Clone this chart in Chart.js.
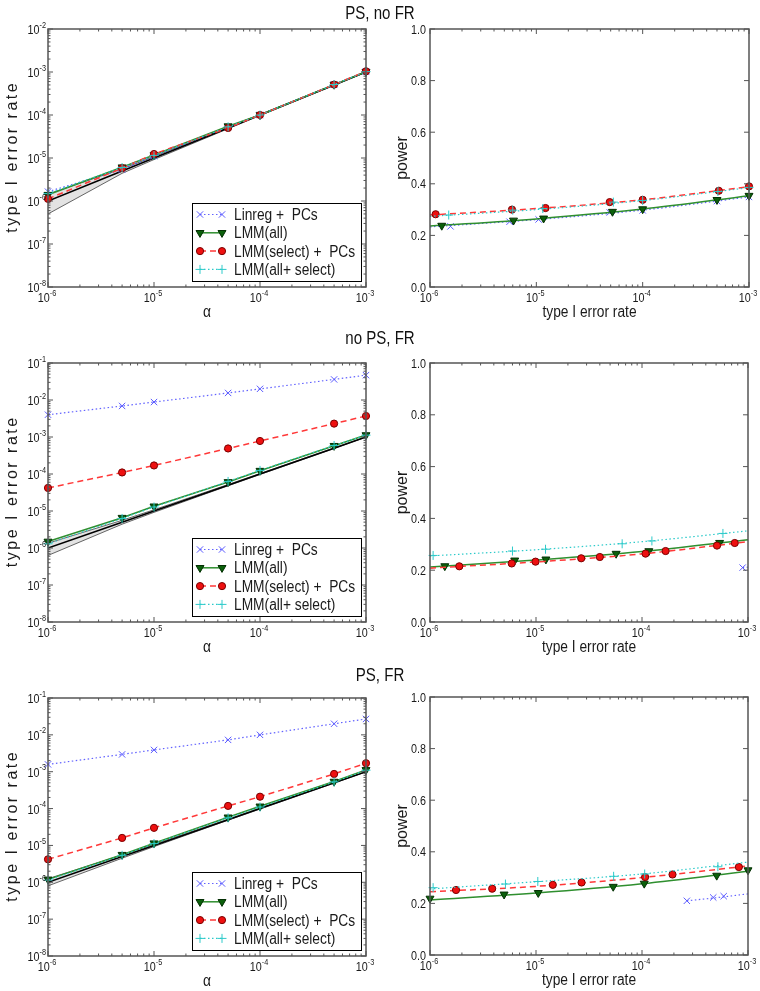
<!DOCTYPE html>
<html>
<head>
<meta charset="utf-8">
<script src="https://cdn.jsdelivr.net/npm/chart.js@4.4.0/dist/chart.umd.min.js"></script>
<style>
  body { margin: 0; background: #fff; }
  #wrap { position: relative; width: 760px; height: 991px; overflow: hidden; }
  canvas { position: absolute; }
  .ttl { position: absolute; left: 0; width: 760px; text-align: center; line-height: 20px;
         font: 17.5px "Liberation Sans", Arial, sans-serif; color: #111;
         transform: scaleX(0.86); transform-origin: 380px 0; }
</style>
</head>
<body>
<div id="wrap">
  <canvas id="a1" width="380" height="330" style="left:0;top:0"></canvas>
  <canvas id="a2" width="380" height="330" style="left:380px;top:0"></canvas>
  <canvas id="b1" width="380" height="330" style="left:0;top:330px"></canvas>
  <canvas id="b2" width="380" height="330" style="left:380px;top:330px"></canvas>
  <canvas id="c1" width="380" height="331" style="left:0;top:660px"></canvas>
  <canvas id="c2" width="380" height="331" style="left:380px;top:660px"></canvas>
  <div class="ttl" style="top:3px">PS, no FR</div>
  <div class="ttl" style="top:328px">no PS, FR</div>
  <div class="ttl" style="top:665px">PS, FR</div>
</div>
<script>
// significance thresholds (x of the left panels)
const alpha = [1e-6, 5e-6, 1e-5, 5e-5, 1e-4, 5e-4, 1e-3];
const seriesNames = ["Linreg +  PCs", "LMM(all)", "LMM(select) +  PCs", "LMM(all+ select)"];

// --- PS, no FR : type I error rate
const linregA = [1.65e-6, 5.4e-6, 1.1e-5, 5.3e-5, 1.0e-4, 5.1e-4, 1.02e-3];
const lmmA    = [1.4e-6, 6.1e-6, 1.17e-5, 5.5e-5, 1.0e-4, 5.1e-4, 1.01e-3];
const selectA = [1.12e-6, 5.8e-6, 1.24e-5, 5.0e-5, 1.0e-4, 5.1e-4, 1.04e-3];
const bothA   = [1.5e-6, 6.0e-6, 1.15e-5, 5.3e-5, 1.0e-4, 5.1e-4, 1.02e-3];
const bandLoA = [5.0e-7, 4.4e-6, 9.2e-6, 4.8e-5, 9.7e-5, 4.9e-4, 9.9e-4];
const bandHiA = [1.45e-6, 5.6e-6, 1.08e-5, 5.2e-5, 1.03e-4, 5.07e-4, 1.01e-3];

// --- no PS, FR
const linregB = [4.0e-3, 6.9e-3, 8.8e-3, 1.55e-2, 2.0e-2, 3.6e-2, 4.7e-2];
const lmmB    = [1.5e-6, 6.6e-6, 1.34e-5, 6.1e-5, 1.23e-4, 5.8e-4, 1.13e-3];
const selectB = [4.2e-5, 1.1e-4, 1.7e-4, 4.9e-4, 7.8e-4, 2.3e-3, 3.7e-3];
const bothB   = [1.3e-6, 6.3e-6, 1.28e-5, 6.3e-5, 1.25e-4, 5.9e-4, 1.12e-3];
const bandLoB = [6.3e-7, 4.4e-6, 9.2e-6, 4.8e-5, 9.7e-5, 4.9e-4, 9.9e-4];
const bandHiB = [1.35e-6, 5.6e-6, 1.08e-5, 5.2e-5, 1.03e-4, 5.07e-4, 1.01e-3];

// --- PS, FR
const linregC = [1.58e-3, 2.95e-3, 3.9e-3, 7.3e-3, 1.0e-2, 2.0e-2, 2.7e-2];
const lmmC    = [1.2e-6, 5.6e-6, 1.15e-5, 5.8e-5, 1.15e-4, 5.4e-4, 1.12e-3];
const selectC = [4.2e-6, 1.6e-5, 3.0e-5, 1.18e-4, 2.1e-4, 8.7e-4, 1.7e-3];
const bothC   = [1.15e-6, 5.4e-6, 1.12e-5, 5.6e-5, 1.1e-4, 5.3e-4, 1.1e-3];
const bandLoC = [8.0e-7, 4.5e-6, 9.3e-6, 4.85e-5, 9.7e-5, 4.9e-4, 9.9e-4];
const bandHiC = [1.25e-6, 5.5e-6, 1.07e-5, 5.15e-5, 1.03e-4, 5.07e-4, 1.01e-3];

// power curves, read at these type I error rates
const curveX = [1e-6, 1e-5, 1e-4, 1e-3];

const powLinregA = [0.233, 0.261, 0.298, 0.349];
const powLmmA    = [0.236, 0.264, 0.302, 0.354];
const powSelectA = [0.279, 0.304, 0.338, 0.389];
const powBothA   = [0.274, 0.300, 0.335, 0.385];
const mkLinregAx = [1.56e-6, 5.6e-6, 1.05e-5, 4.9e-5, 1.0e-4, 5.0e-4, 1.0e-3];
const mkLinregAy = [0.235, 0.253, 0.262, 0.289, 0.297, 0.333, 0.349];
const mkLmmAx    = [1.29e-6, 6.1e-6, 1.17e-5, 5.2e-5, 1.0e-4, 5.0e-4, 1.0e-3];
const mkLmmAy    = [0.238, 0.258, 0.266, 0.292, 0.302, 0.338, 0.354];
const mkSelectAx = [1.13e-6, 5.9e-6, 1.22e-5, 4.9e-5, 1.0e-4, 5.2e-4, 1.0e-3];
const mkSelectAy = [0.282, 0.300, 0.306, 0.329, 0.338, 0.373, 0.390];
const mkBothAx   = [1.5e-6, 6.0e-6, 1.15e-5, 5.3e-5, 1.0e-4, 5.1e-4, 1.0e-3];
const mkBothAy   = [0.279, 0.298, 0.304, 0.329, 0.335, 0.370, 0.386];

const powLinregBx = [8.9e-4, 1e-3];
const powLinregB = [0.21, 0.212];
const powLmmB    = [0.212, 0.239, 0.272, 0.318];
const powSelectB = [0.208, 0.232, 0.263, 0.310];
const powBothB   = [0.255, 0.279, 0.310, 0.352];
const mkLinregBx = [8.9e-4];
const mkLinregBy = [0.21];
const mkLmmBx    = [1.38e-6, 6.3e-6, 1.24e-5, 5.7e-5, 1.16e-4, 5.4e-4];
const mkLmmBy    = [0.216, 0.238, 0.242, 0.264, 0.274, 0.306];
const mkSelectBx = [1.89e-6, 5.9e-6, 9.9e-6, 2.67e-5, 4.0e-5, 1.08e-4, 1.67e-4, 5.1e-4, 7.5e-4];
const mkSelectBy = [0.215, 0.226, 0.233, 0.246, 0.251, 0.264, 0.274, 0.295, 0.305];
const mkBothBx   = [1.07e-6, 6.0e-6, 1.23e-5, 6.5e-5, 1.24e-4, 5.8e-4];
const mkBothBy   = [0.257, 0.274, 0.281, 0.302, 0.313, 0.342];

const powLinregCx = [2.65e-4, 5e-4, 1e-3];
const powLinregC = [0.21, 0.222, 0.237];
const powLmmC    = [0.213, 0.240, 0.276, 0.325];
const powSelectC = [0.245, 0.266, 0.300, 0.345];
const powBothC   = [0.256, 0.284, 0.314, 0.360];
const mkLinregCx = [2.65e-4, 4.7e-4, 5.9e-4];
const mkLinregCy = [0.21, 0.223, 0.228];
const mkLmmCx    = [1.0e-6, 5.0e-6, 1.05e-5, 5.35e-5, 1.05e-4, 5.07e-4, 1.0e-3];
const mkLmmCy    = [0.219, 0.235, 0.241, 0.265, 0.277, 0.308, 0.329];
const mkSelectCx = [1.76e-6, 3.86e-6, 1.44e-5, 2.69e-5, 1.07e-4, 1.94e-4, 8.2e-4];
const mkSelectCy = [0.252, 0.257, 0.272, 0.281, 0.302, 0.312, 0.341];
const mkBothCx   = [1.07e-6, 5.15e-6, 1.04e-5, 5.4e-5, 1.06e-4, 5.2e-4];
const mkBothCy   = [0.261, 0.275, 0.285, 0.305, 0.314, 0.342];

// axis ticks
const xExps = [-6, -5, -4, -3];
const powerTicks = [0.0, 0.2, 0.4, 0.6, 0.8, 1.0];

// line / marker look for the 4 methods
const styles = [
  { color: "rgba(70,70,255,0.85)", dash: [1.5, 2.5], width: 1.2, point: "crossRot", rot: 0, r: 4.5, fill: "#5a5aff", edge: "#5a5aff" },
  { color: "#2f8f2f", dash: [], width: 1.5, point: "triangle", rot: 180, r: 4.6, fill: "#0b600b", edge: "#043004" },
  { color: "#ff3838", dash: [6, 4], width: 1.5, point: "circle", rot: 0, r: 3.6, fill: "#ee1010", edge: "#7a0000" },
  { color: "#2ccaca", dash: [1.5, 2.5], width: 1.2, point: "cross", rot: 0, r: 4.5, fill: "#2ccaca", edge: "#2ccaca" }
];

const FONT = '"Liberation Sans", Arial, sans-serif';
const SX = 0.86; // the source text is slightly condensed

function pts(xs, ys) { return xs.map((x, i) => ({ x: x, y: ys[i] })); }

function txt(ctx, s, x, y, size, align) {
  ctx.save();
  ctx.font = size + "px " + FONT;
  ctx.textAlign = align || "left";
  ctx.textBaseline = "alphabetic";
  ctx.translate(x, y);
  ctx.scale(SX, 1);
  ctx.fillText(s, 0, 0);
  ctx.restore();
}
function tw(ctx, s, size) { ctx.font = size + "px " + FONT; return ctx.measureText(s).width * SX; }

function powLabel(ctx, e, x, y, mode) {
  const sup = "-" + Math.abs(e);
  const wB = tw(ctx, "10", 12.5), wS = tw(ctx, sup, 8.5);
  let left, base;
  if (mode === "y") { left = x - wB - wS; base = y + 5; }
  else { left = x - (wB + wS) / 2 - 1; base = y; }
  txt(ctx, "10", left, base, 12.5);
  txt(ctx, sup, left + wB, base - 6.5, 8.5);
}

function drawMarker(ctx, st, x, y) {
  ctx.save();
  ctx.setLineDash([]);
  ctx.lineWidth = 1;
  ctx.strokeStyle = st.edge;
  ctx.fillStyle = st.fill;
  const r = st.r;
  ctx.beginPath();
  if (st.point === "crossRot") {
    const d = r * 0.707;
    ctx.moveTo(x - d, y - d); ctx.lineTo(x + d, y + d);
    ctx.moveTo(x - d, y + d); ctx.lineTo(x + d, y - d);
    ctx.stroke();
  } else if (st.point === "cross") {
    ctx.moveTo(x - r, y); ctx.lineTo(x + r, y);
    ctx.moveTo(x, y - r); ctx.lineTo(x, y + r);
    ctx.stroke();
  } else if (st.point === "circle") {
    ctx.arc(x, y, r, 0, Math.PI * 2);
    ctx.fill(); ctx.stroke();
  } else {
    ctx.moveTo(x, y + r);
    ctx.lineTo(x - r * 0.866, y - r * 0.5);
    ctx.lineTo(x + r * 0.866, y - r * 0.5);
    ctx.closePath();
    ctx.fill(); ctx.stroke();
  }
  ctx.restore();
}

// frame, inward ticks, tick labels, axis titles and legend
function deco(opt) {
  return {
    id: "deco",
    afterDraw(chart) {
      const ctx = chart.ctx, a = chart.chartArea;
      const xs = chart.scales.x, ys = chart.scales.y;
      ctx.save();
      ctx.strokeStyle = "#555";
      ctx.fillStyle = "#1a1a1a";
      ctx.lineWidth = 1;
      const tick = (px, horiz, len) => {
        ctx.beginPath();
        if (horiz) {
          ctx.moveTo(px, a.bottom); ctx.lineTo(px, a.bottom - len);
          ctx.moveTo(px, a.top); ctx.lineTo(px, a.top + len);
        } else {
          ctx.moveTo(a.left, px); ctx.lineTo(a.left + len, px);
          ctx.moveTo(a.right, px); ctx.lineTo(a.right - len, px);
        }
        ctx.stroke();
      };
      // x axis (log)
      xExps.forEach(e => {
        tick(xs.getPixelForValue(Math.pow(10, e)), true, 5);
        if (e < xExps[xExps.length - 1]) {
          for (let m = 2; m <= 9; m++) tick(xs.getPixelForValue(m * Math.pow(10, e)), true, 2.5);
        }
        powLabel(ctx, e, xs.getPixelForValue(Math.pow(10, e)), a.bottom + 15, "x");
      });
      // y axis
      if (opt.yLog) {
        for (let e = opt.yMinExp; e <= opt.yMaxExp; e++) {
          const py = ys.getPixelForValue(Math.pow(10, e));
          tick(py, false, 5);
          if (e < opt.yMaxExp) {
            for (let m = 2; m <= 9; m++) tick(ys.getPixelForValue(m * Math.pow(10, e)), false, 2.5);
          }
          powLabel(ctx, e, a.left - 2, py, "y");
        }
      } else {
        powerTicks.forEach(v => {
          const py = ys.getPixelForValue(v);
          tick(py, false, 5);
          txt(ctx, v.toFixed(1), a.left - 4, py + 4.5, 12.5, "right");
        });
      }
      // frame
      ctx.lineWidth = 1.5;
      ctx.strokeRect(a.left, a.top, a.right - a.left, a.bottom - a.top);
      // axis titles
      txt(ctx, opt.xTitle, (a.left + a.right) / 2, a.bottom + 30, 16, "center");
      ctx.save();
      ctx.translate(opt.yTitleX, (a.top + a.bottom) / 2);
      ctx.rotate(-Math.PI / 2);
      ctx.font = "16px " + FONT;
      ctx.letterSpacing = opt.ySpacing + "px";
      ctx.textAlign = "center";
      ctx.fillText(opt.yTitle, opt.ySpacing / 2, 5);
      ctx.restore();
      // legend
      if (opt.legend) {
        const L = a.right - 174, T = a.bottom - 84, W = 169, H = 78;
        ctx.fillStyle = "#fff";
        ctx.fillRect(L, T, W, H);
        ctx.strokeStyle = "#000";
        ctx.lineWidth = 1;
        ctx.strokeRect(L + 0.5, T + 0.5, W, H);
        seriesNames.forEach((name, i) => {
          const st = styles[i], yy = T + 11.5 + i * 18.3;
          ctx.save();
          ctx.strokeStyle = st.color;
          ctx.lineWidth = st.width;
          ctx.setLineDash(st.dash);
          ctx.beginPath();
          ctx.moveTo(L + 8, yy); ctx.lineTo(L + 30, yy);
          ctx.stroke();
          ctx.restore();
          drawMarker(ctx, st, L + 8, yy);
          drawMarker(ctx, st, L + 30, yy);
          ctx.fillStyle = "#1a1a1a";
          txt(ctx, name, L + 42, yy + 5.5, 16);
        });
      }
      ctx.restore();
    }
  };
}

function lineDs(i, data, withPoints) {
  const st = styles[i];
  return {
    data: data,
    borderColor: st.color,
    borderWidth: st.width,
    borderDash: st.dash,
    pointStyle: st.point,
    rotation: st.rot,
    pointRadius: withPoints ? st.r : 0,
    pointBackgroundColor: st.fill,
    pointBorderColor: st.edge,
    pointBorderWidth: 1,
    fill: false,
    tension: 0,
    clip: false
  };
}

function markerDs(i, data) {
  const d = lineDs(i, data, true);
  d.showLine = false;
  return d;
}

function curveDs(i, data) {
  const d = lineDs(i, data, false);
  d.cubicInterpolationMode = "monotone";
  d.clip = 0;
  return d;
}

function makeChart(id, datasets, yScale, pad, opt) {
  return new Chart(document.getElementById(id), {
    type: "line",
    data: { datasets: datasets },
    options: {
      responsive: false,
      animation: false,
      events: [],
      devicePixelRatio: 1,
      layout: { padding: pad },
      scales: {
        x: { type: "logarithmic", min: 1e-6, max: 1e-3, display: false },
        y: Object.assign({ display: false }, yScale)
      },
      plugins: { legend: { display: false }, tooltip: { enabled: false } }
    },
    plugins: [deco(opt)]
  });
}

function leftPanel(id, pad, yMaxExp, series, lo, hi) {
  const ds = [];
  for (let i = 3; i >= 0; i--) ds.push(lineDs(i, pts(alpha, series[i]), true));
  ds.push({ data: pts(alpha, alpha), borderColor: "#000", borderWidth: 1.6, pointRadius: 0, fill: false });
  const loIdx = ds.length;
  ds.push({ data: pts(alpha, lo), borderColor: "#555", borderWidth: 0.9, pointRadius: 0, fill: false });
  ds.push({ data: pts(alpha, hi), borderColor: "#555", borderWidth: 0.9, pointRadius: 0,
            fill: { target: loIdx }, backgroundColor: "rgba(200,200,200,0.5)" });
  makeChart(id, ds, { type: "logarithmic", min: 1e-8, max: Math.pow(10, yMaxExp) }, pad,
    { yLog: true, yMinExp: -8, yMaxExp: yMaxExp, xTitle: "\u03b1", yTitle: "type I error rate",
      yTitleX: 12, ySpacing: 2.5, legend: true });
}

function rightPanel(id, pad, curves, markers) {
  const ds = [];
  for (let i = 3; i >= 0; i--) {
    ds.push(markerDs(i, markers[i]));
    ds.push(curveDs(i, curves[i]));
  }
  makeChart(id, ds, { type: "linear", min: 0, max: 1 }, pad,
    { yLog: false, xTitle: "type I error rate", yTitle: "power", yTitleX: 22, ySpacing: 0, legend: false });
}

// row 1: PS, no FR
leftPanel("a1", { left: 48, right: 14, top: 29, bottom: 43 }, -2,
  [linregA, lmmA, selectA, bothA], bandLoA, bandHiA);
rightPanel("a2", { left: 50, right: 11, top: 29, bottom: 43 },
  [pts(curveX, powLinregA), pts(curveX, powLmmA), pts(curveX, powSelectA), pts(curveX, powBothA)],
  [pts(mkLinregAx, mkLinregAy), pts(mkLmmAx, mkLmmAy), pts(mkSelectAx, mkSelectAy), pts(mkBothAx, mkBothAy)]);

// row 2: no PS, FR
leftPanel("b1", { left: 48, right: 14, top: 33, bottom: 38 }, -1,
  [linregB, lmmB, selectB, bothB], bandLoB, bandHiB);
rightPanel("b2", { left: 50, right: 12, top: 33, bottom: 38 },
  [pts(powLinregBx, powLinregB), pts(curveX, powLmmB), pts(curveX, powSelectB), pts(curveX, powBothB)],
  [pts(mkLinregBx, mkLinregBy), pts(mkLmmBx, mkLmmBy), pts(mkSelectBx, mkSelectBy), pts(mkBothBx, mkBothBy)]);

// row 3: PS, FR
leftPanel("c1", { left: 48, right: 14, top: 38, bottom: 35 }, -1,
  [linregC, lmmC, selectC, bothC], bandLoC, bandHiC);
rightPanel("c2", { left: 50, right: 12, top: 37, bottom: 36 },
  [pts(powLinregCx, powLinregC), pts(curveX, powLmmC), pts(curveX, powSelectC), pts(curveX, powBothC)],
  [pts(mkLinregCx, mkLinregCy), pts(mkLmmCx, mkLmmCy), pts(mkSelectCx, mkSelectCy), pts(mkBothCx, mkBothCy)]);
</script>
</body>
</html>
